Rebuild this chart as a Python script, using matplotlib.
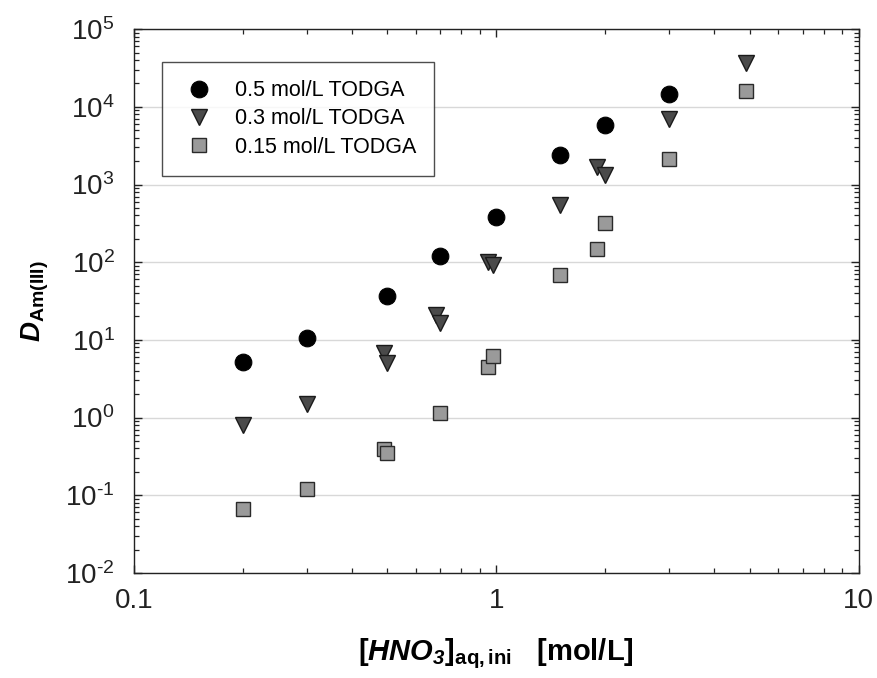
import math
import matplotlib
matplotlib.use("Agg")
import matplotlib.pyplot as plt
from matplotlib.ticker import LogLocator, FixedLocator, NullFormatter, FuncFormatter

plt.rcParams['font.family'] = ['Liberation Sans', 'DejaVu Sans']
plt.rcParams['mathtext.fontset'] = 'custom'
plt.rcParams['mathtext.rm'] = 'Liberation Sans'
plt.rcParams['mathtext.it'] = 'Liberation Sans:italic'
plt.rcParams['mathtext.bf'] = 'Liberation Sans:bold'
plt.rcParams['mathtext.bfit'] = 'Liberation Sans:italic:bold'

# Distribution ratios of Am(III) vs. initial nitric acid concentration
x_050 = [0.2, 0.3, 0.5, 0.7, 1.0, 1.5, 2.0, 3.0]
d_050 = [5.2, 10.6, 36.5, 120, 383, 2380, 5800, 14500]

x_030 = [0.2, 0.3, 0.49, 0.5, 0.68, 0.7, 0.95, 0.98, 1.5, 1.9, 2.0, 3.0, 4.9]
d_030 = [0.80, 1.49, 6.7, 5.0, 20.8, 16.3, 101, 91.5, 542, 1660, 1320, 7060, 36700]

x_015 = [0.2, 0.3, 0.49, 0.5, 0.7, 0.95, 0.98, 1.5, 1.9, 2.0, 3.0, 4.9]
d_015 = [0.0656, 0.122, 0.388, 0.352, 1.13, 4.5, 6.17, 68, 147, 315, 2160, 16000]

labels = ['0.5 mol/L TODGA', '0.3 mol/L TODGA', '0.15 mol/L TODGA']
x_ticks = [0.1, 1, 10]
x_tick_labels = ['0.1', '1', '10']


def pow10_label(v, pos):
    e = int(round(math.log10(v)))
    if e < 0:
        return r'$10^{\text{-}%d}$' % (-e)
    return r'$10^{%d}$' % e


fig = plt.figure(figsize=(8.78, 6.78), dpi=100)
ax = fig.add_axes([0.1526, 0.155, 0.8254, 0.802])

ax.plot(x_050, d_050, linestyle='none', marker='o', ms=12, mfc='black',
        mec='black', mew=0.8, label=labels[0], zorder=3)
ax.plot(x_030, d_030, linestyle='none', marker='v', ms=11, mfc='#4a4a4a',
        mec='#1a1a1a', mew=1.0, label=labels[1], zorder=3)
ax.plot(x_015, d_015, linestyle='none', marker='s', ms=9.5, mfc='#9a9a9a',
        mec='#2a2a2a', mew=1.0, label=labels[2], zorder=3)

ax.set_xscale('log')
ax.set_yscale('log')
ax.set_xlim(0.1, 10)
ax.set_ylim(1e-2, 1e5)

ax.xaxis.set_major_locator(FixedLocator(x_ticks))
ax.set_xticklabels(x_tick_labels)
ax.xaxis.set_minor_locator(LogLocator(base=10, subs=range(2, 10), numticks=20))
ax.xaxis.set_minor_formatter(NullFormatter())

ax.yaxis.set_major_locator(LogLocator(base=10, numticks=20))
ax.yaxis.set_major_formatter(FuncFormatter(pow10_label))
ax.yaxis.set_minor_locator(LogLocator(base=10, subs=range(2, 10), numticks=20))
ax.yaxis.set_minor_formatter(NullFormatter())

ax.tick_params(which='both', direction='in', top=True, right=True, colors='#222222')
ax.tick_params(which='major', length=6, width=1.0, labelsize=20)
ax.tick_params(axis='y', which='major', pad=14)
ax.tick_params(axis='x', which='major', pad=11)
ax.tick_params(which='minor', length=3.5, width=0.9)

ax.yaxis.grid(True, which='major', color='#d8d8d8', linewidth=1.0)
ax.set_axisbelow(True)
for s in ax.spines.values():
    s.set_linewidth(1.0)
    s.set_color('#222222')

ax.set_xlabel(r'$\mathbf{[}\mathbfit{HNO}_{\mathbfit{3}}\mathbf{]}_{\mathbf{aq,ini}}\ \ \ \mathbf{[mol/L]}$',
              fontsize=21, labelpad=16)
ax.set_ylabel(r'$\mathbfit{D}_{\mathbf{Am(III)}}$', fontsize=20, labelpad=10)

leg = ax.legend(loc='upper left', bbox_to_anchor=(0.038, 0.94), fontsize=15.5,
                frameon=True, fancybox=False, edgecolor='#222222',
                borderpad=0.85, handletextpad=0.75, labelspacing=0.34,
                handlelength=1.8, borderaxespad=0)
leg.get_frame().set_linewidth(1.0)

fig.savefig('out.png', dpi=100)
